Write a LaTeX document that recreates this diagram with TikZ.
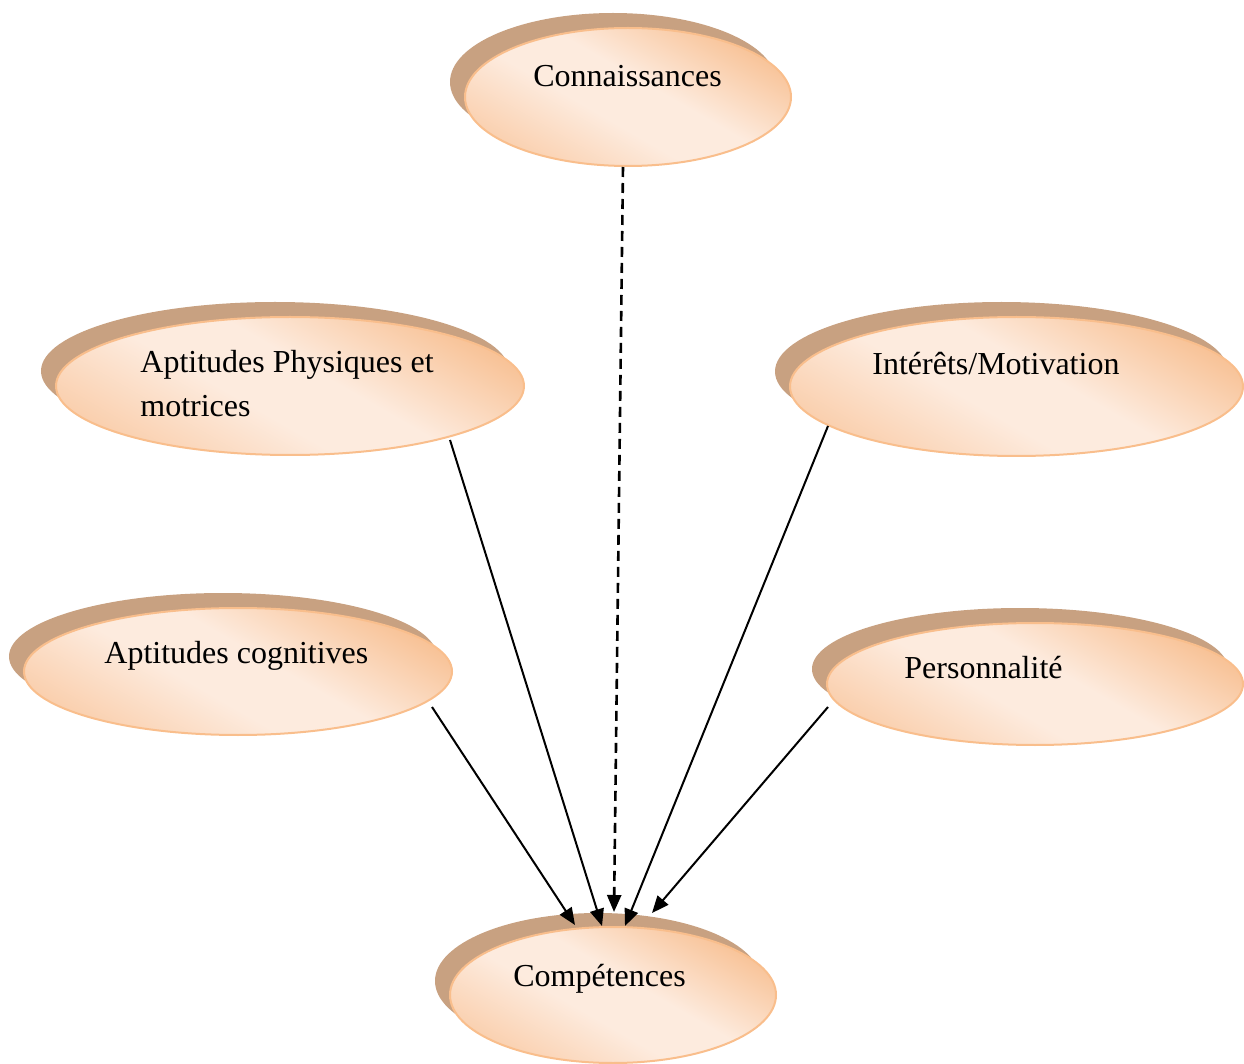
\documentclass[tikz,border=0pt]{standalone}
\usepackage{fontspec}
\setmainfont{Liberation Serif}
\usetikzlibrary{calc,arrows.meta,shapes.geometric}

\definecolor{shadowbrown}{RGB}{200,161,129}
\definecolor{peachdark}{RGB}{248,195,152}
\definecolor{peachmid}{RGB}{250,208,175}
\definecolor{peachlight}{RGB}{253,235,222}
\definecolor{peachline}{RGB}{249,190,140}

% soft diagonal fill: warmer at the upper right, pale across the middle
\pgfdeclareverticalshading{bubblefill}{100bp}{%
  color(0bp)=(peachmid); color(25bp)=(peachmid); color(43bp)=(peachlight);
  color(55bp)=(peachlight); color(75bp)=(peachdark); color(100bp)=(peachdark)}

\tikzset{
  bubbleshadow/.style={ellipse, inner sep=0pt, outer sep=0pt, fill=shadowbrown},
  bubble/.style={ellipse, inner sep=0pt, outer sep=0pt, draw=peachline, line width=1pt,
    shading=bubblefill, shading angle=-30},
  lbl/.style={anchor=base west, inner sep=0pt, font=\fontsize{16}{21.5}\selectfont},
  link/.style={line width=1pt, -{Triangle[length=8.5pt,width=7pt]}},
  dashlink/.style={link, line width=1.3pt, dash pattern=on 5pt off 3pt},
}

\begin{document}
\begin{tikzpicture}[x=0.5pt,y=-0.5pt]
  \useasboundingbox (0,0) rectangle (1244,1064);

  % raised shadows behind each ellipse
  \node[bubbleshadow, minimum width=163pt, minimum height=69pt]   (connS) at (613,82) {};
  \node[bubbleshadow, minimum width=234pt, minimum height=69pt]   (aptS)  at (275,371) {};
  \node[bubbleshadow, minimum width=226.5pt, minimum height=69.5pt] (intS) at (1001.5,371.5) {};
  \node[bubbleshadow, minimum width=214pt, minimum height=63.5pt] (cogS)  at (223,656.5) {};
  \node[bubbleshadow, minimum width=208pt, minimum height=61pt]   (persS) at (1020,669) {};
  \node[bubbleshadow, minimum width=163pt, minimum height=68pt]   (compS) at (598,981) {};

  % shaded ellipses
  \node[bubble, minimum width=163pt, minimum height=69pt]   (conn) at (628,97) {};
  \node[bubble, minimum width=234pt, minimum height=69pt]   (apt)  at (290,386) {};
  \node[bubble, minimum width=226.5pt, minimum height=69.5pt] (int) at (1016.5,386.5) {};
  \node[bubble, minimum width=214pt, minimum height=63.5pt] (cog)  at (238,671.5) {};
  \node[bubble, minimum width=208pt, minimum height=61pt]   (pers) at (1035,684) {};
  \node[bubble, minimum width=163pt, minimum height=68pt]   (comp) at (613,995) {};

  % connectors towards Compétences
  \draw[link] ($(cog)+(194,35.5)$) -- ($(comp)+(-38,-70)$);
  \draw[link] ($(apt)+(160,54)$) -- ($(comp)+(-11,-69)$);
  \draw[dashlink] ($(conn)+(-5,70)$) -- ($(comp)+(1,-83)$);
  \draw[link] ($(int)+(-188.5,39.5)$) -- ($(comp)+(12,-69)$);
  \draw[link] ($(pers)+(-207,23)$) -- ($(comp)+(39,-82)$);

  % labels
  \node[lbl] (connT) at (533,87)  {Connaissances};
  \node[lbl] (aptT1) at (140,373) {Aptitudes Physiques et};
  \node[lbl] (aptT2) at (140,417) {motrices};
  \node[lbl] (intT)  at (872,375) {Intérêts/Motivation};
  \node[lbl] (cogT)  at (104,663) {Aptitudes cognitives};
  \node[lbl] (persT) at (904,678) {Personnalité};
  \node[lbl] (compT) at (513,986) {Compétences};
\end{tikzpicture}
\end{document}
